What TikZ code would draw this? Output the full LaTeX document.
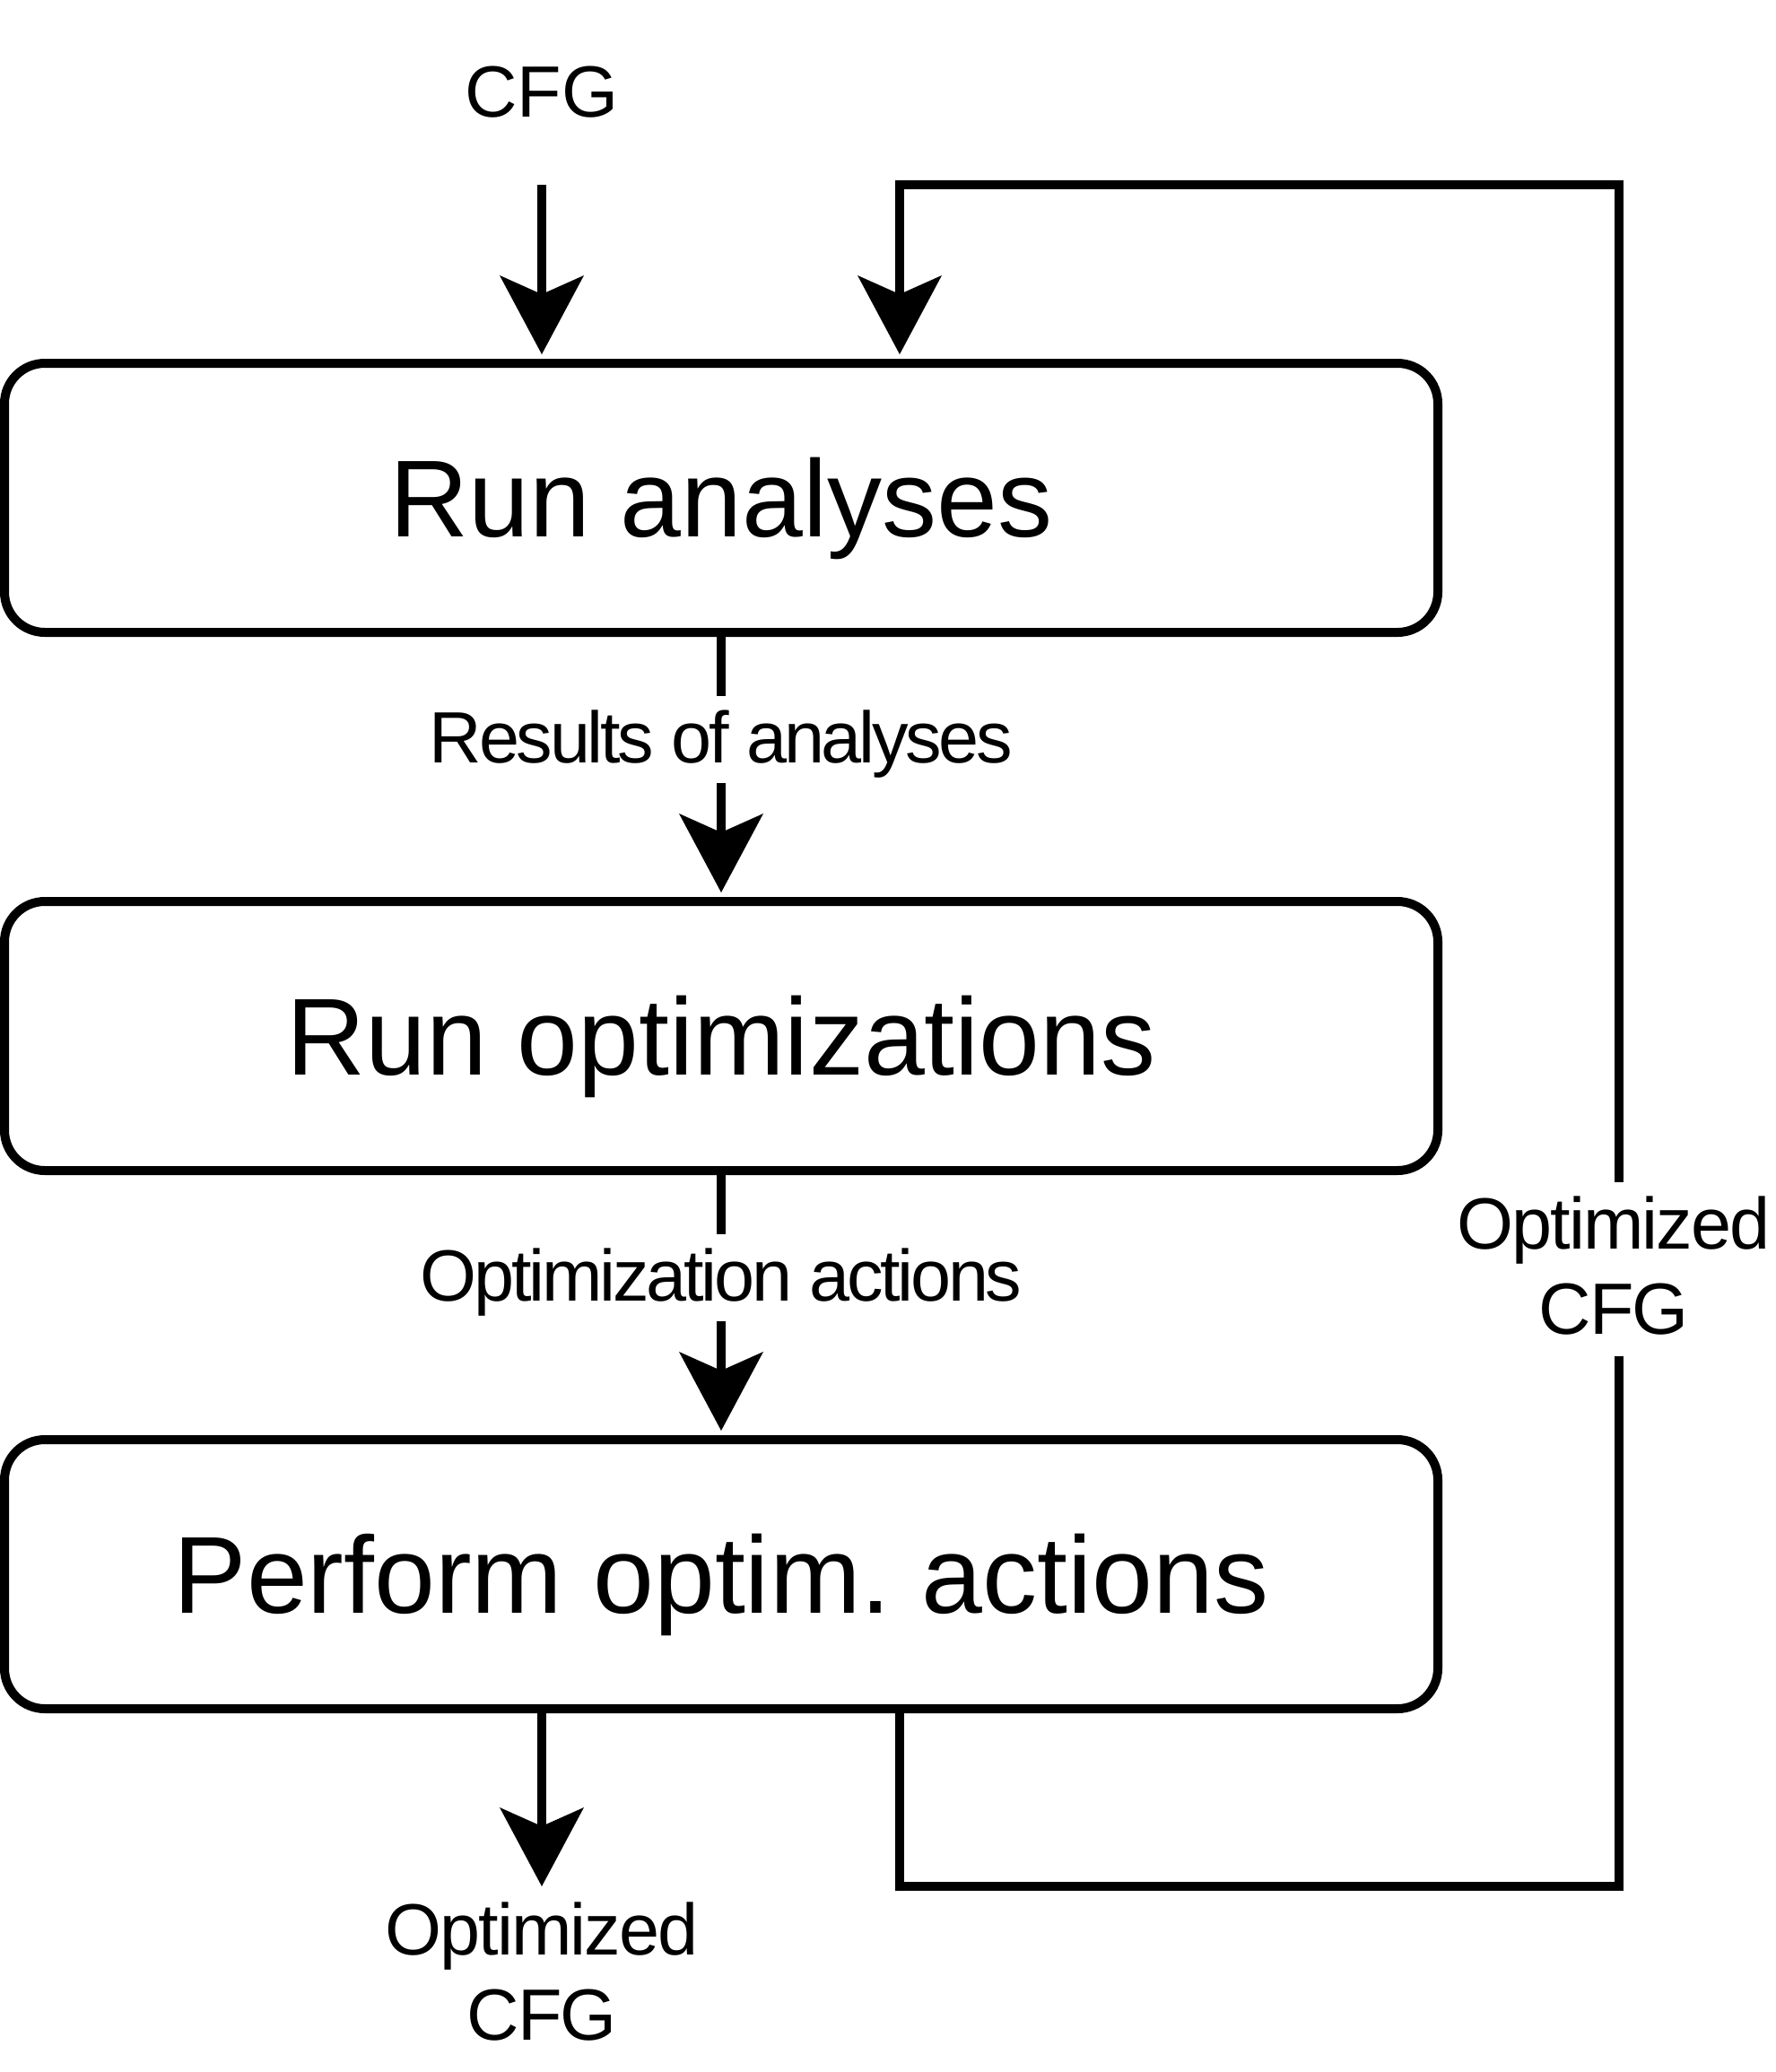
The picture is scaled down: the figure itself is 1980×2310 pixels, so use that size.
\documentclass[tikz,border=0pt]{standalone}
\usepackage{fontspec}
\setmainfont{Liberation Sans}
\newfontfamily\tightfont[LetterSpace=-4]{Liberation Sans}
\newfontfamily\semitightfont[LetterSpace=-2.5]{Liberation Sans}
\usetikzlibrary{arrows.meta}
\begin{document}
\begin{tikzpicture}[x=1pt,y=-1pt,
  box/.style={draw, line width=10pt, rounded corners=45pt, minimum width=1598pt,
    minimum height=300pt, inner sep=0pt, font=\fontsize{122pt}{146pt}\selectfont,
    text height=87pt, text depth=0pt},
  conn/.style={line width=10pt, line join=miter},
  arr/.style={conn, -{Stealth[length=88pt,width=94pt,inset=21pt,line width=0pt]}},
  lab/.style={inner sep=0pt, font=\fontsize{81pt}{95pt}\selectfont},
  outlab/.style={inner sep=0pt, font=\semitightfont\fontsize{81pt}{95pt}\selectfont},
  midlab/.style={inner sep=0pt, font=\tightfont\fontsize{81pt}{95pt}\selectfont,
    text height=74pt, text depth=23pt}]
\path[use as bounding box, fill=white] (0,0) rectangle (1980,2310);

% boxes
\node[box] (b1) at (804,555) {Run analyses};
\node[box] (b2) at (804,1155) {Run optimizations};
\node[box] (b3) at (804,1755) {Perform optim.\ actions};

% input
\node[lab, anchor=base] (cfgin) at (604,130) {CFG};
\coordinate (s1) at (604,206);
\draw[arr, shorten >=5pt] (s1) -- (s1 |- b1.north);

% middle connectors with labels
\node[midlab, anchor=base] (l1) at (804,850) {Results of analyses};
\draw[conn] (b1.south) -- (l1.north);
\draw[arr, shorten >=5pt] (l1.south) -- (b2.north);

\node[midlab, anchor=base] (l2) at (804,1450) {Optimization actions};
\draw[conn] (b2.south) -- (l2.north);
\draw[arr, shorten >=5pt] (l2.south) -- (b3.north);

% output
\coordinate (e1) at (604,2103);
\draw[arr] (b3.south -| e1) -- (e1);
\node[outlab, anchor=north, align=center] (cfgout) at (604,2121) {Optimized\\CFG};

% feedback loop
\coordinate (f1) at (1003,2103);
\coordinate (f2) at (1805,2103);
\coordinate (f3) at (1805,206);
\coordinate (f4) at (1003,206);
\coordinate (g1) at (1805,1318);
\coordinate (g2) at (1805,1512);
\node[outlab, anchor=north, align=center] (fl) at (1799,1334) {Optimized\\CFG};
\draw[conn] (b3.south -| f1) -- (f1) -- (f2) -- (g2);
\draw[arr, shorten >=5pt] (g1) -- (f3) -- (f4) -- (b1.north -| f4);
\end{tikzpicture}
\end{document}
